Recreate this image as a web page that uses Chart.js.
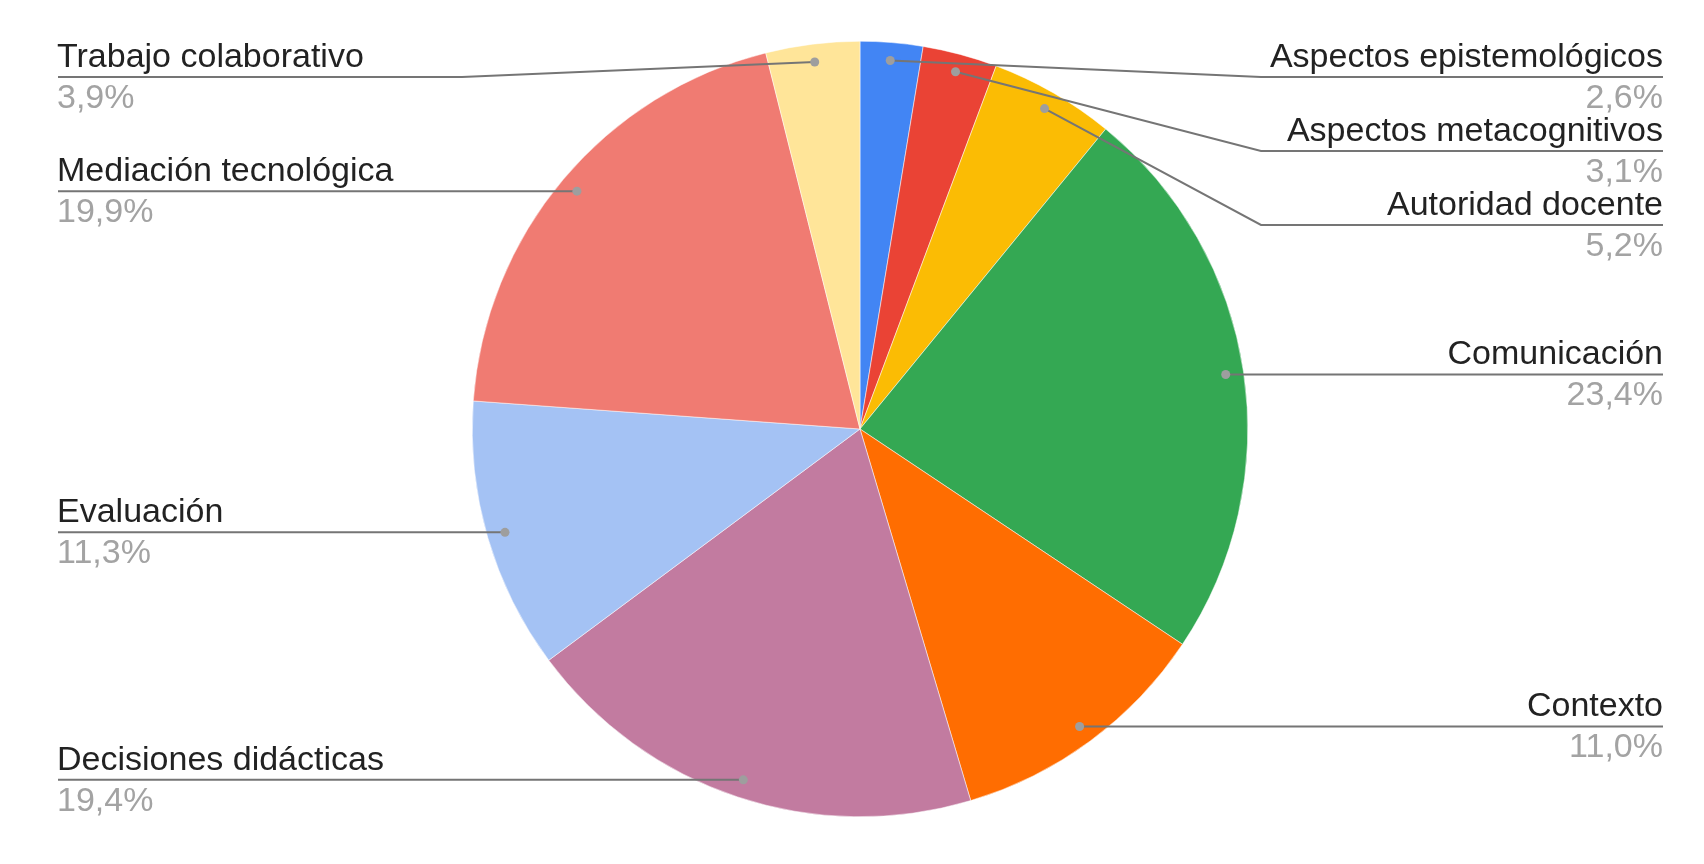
<!DOCTYPE html>
<html>
<head>
<meta charset="utf-8">
<script src="https://cdn.jsdelivr.net/npm/chart.js@4.4.0/dist/chart.umd.min.js"></script>
<style>
  html, body { margin: 0; padding: 0; background: #fff; }
  #pie { display: block; }
</style>
</head>
<body>
<canvas id="pie" width="1704" height="864"></canvas>
<script>
// categorias y porcentajes (orden horario desde arriba)
var categorias = ['Aspectos epistemológicos', 'Aspectos metacognitivos', 'Autoridad docente', 'Comunicación', 'Contexto', 'Decisiones didácticas', 'Evaluación', 'Mediación tecnológica', 'Trabajo colaborativo']
var porcentajes = [2.6, 3.1, 5.2, 23.4, 11.0, 19.4, 11.3, 19.9, 3.9]
var colores = ['#4285F4', '#EA4335', '#FBBC04', '#34A853', '#FF6D01', '#C27BA0', '#A4C2F4', '#F07B72', '#FFE599']

var FONT = '34px "Liberation Sans", Arial, sans-serif'

// etiquetas con lineas guia, estilo hoja de calculo
var etiquetasPlugin = {
    id: 'etiquetas',
    afterDraw: function(chart) {
        var ctx = chart.ctx
        var meta = chart.getDatasetMeta(0)
        var arcs = meta.data
        if (!arcs.length) return
        var cx = arcs[0].x, cy = arcs[0].y, R = arcs[0].outerRadius
        var izq = [], der = []

        arcs.forEach(function(arc, i) {
            var a = (arc.startAngle + arc.endAngle) / 2
            var r = R - 18
            var p = { i: i, x: cx + r * Math.cos(a), y: cy + r * Math.sin(a) }
            if (p.x >= cx) der.push(p); else izq.push(p)
        })

        var gap = 74, minY = 77
        ;[izq, der].forEach(function(lado) {
            lado.sort(function(a, b) { return a.y - b.y })
            var prev = -Infinity
            lado.forEach(function(p) {
                p.ly = Math.max(p.y, prev + gap, minY)
                prev = p.ly
            })
        })

        ctx.save()
        function dibujar(p, derecha) {
            var bendX = derecha ? cx + 401 : cx - 398
            var edgeX = derecha ? 1663 : 58
            ctx.strokeStyle = '#757575'
            ctx.lineWidth = 2
            ctx.beginPath()
            ctx.moveTo(p.x, p.y)
            if (Math.abs(p.ly - p.y) > 0.5) ctx.lineTo(bendX, p.ly)
            ctx.lineTo(edgeX, p.ly)
            ctx.stroke()

            ctx.fillStyle = '#9E9E9E'
            ctx.beginPath()
            ctx.arc(p.x, p.y, 4.5, 0, Math.PI * 2)
            ctx.fill()

            ctx.font = FONT
            ctx.textAlign = derecha ? 'right' : 'left'
            ctx.textBaseline = 'alphabetic'
            var tx = derecha ? 1663 : 57
            ctx.fillStyle = '#222222'
            ctx.fillText(categorias[p.i], tx, p.ly - 10)
            ctx.fillStyle = '#A3A3A3'
            ctx.fillText(porcentajes[p.i].toFixed(1).replace('.', ',') + '%', tx, p.ly + 31)
        }
        der.forEach(function(p) { dibujar(p, true) })
        izq.forEach(function(p) { dibujar(p, false) })
        ctx.restore()
    }
}

var pieCanvas = document.getElementById('pie').getContext('2d')
var pieChart = new Chart(pieCanvas, {
    type: 'pie',
    data: {
        labels: categorias,
        datasets: [{
            data: porcentajes,
            backgroundColor: colores,
            borderColor: '#ffffff',
            borderWidth: 0.5,
            hoverOffset: 0
        }]
    },
    options: {
        responsive: false,
        animation: false,
        layout: { padding: { top: 41, bottom: 47, left: 16, right: 0 } },
        plugins: {
            legend: { display: false },
            tooltip: { enabled: false }
        }
    },
    plugins: [etiquetasPlugin]
})
</script>
</body>
</html>
